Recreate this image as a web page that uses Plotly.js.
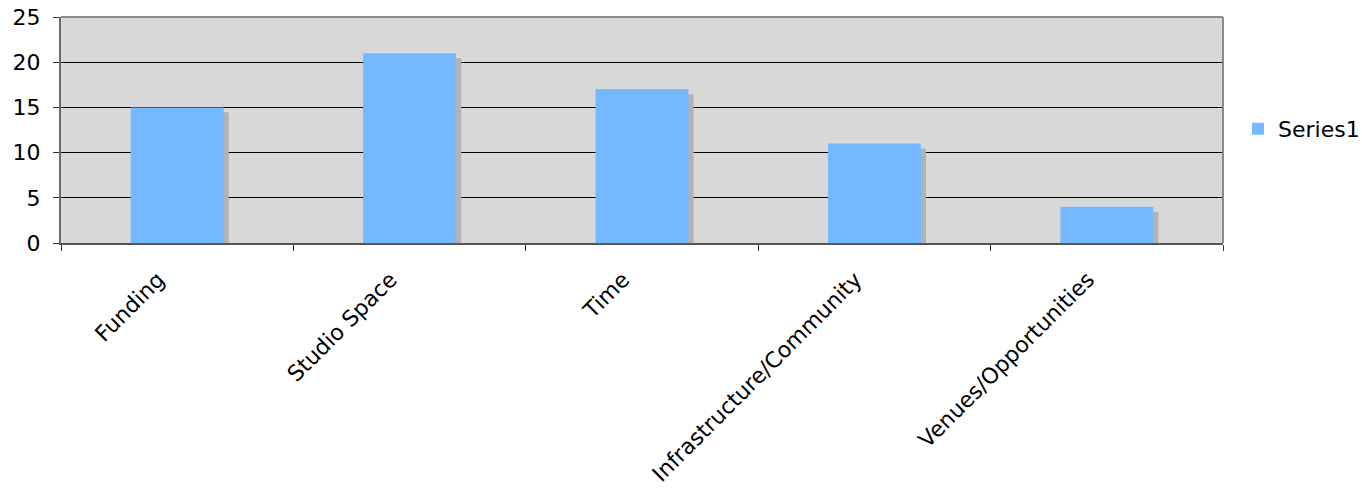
<!DOCTYPE html>
<html>
<head>
<meta charset="utf-8">
<script src="https://cdn.plot.ly/plotly-3.0.1.min.js"></script>
<style>html,body{margin:0;padding:0;background:#fff;}#chart{width:1362px;height:490px;}</style>
</head>
<body>
<div id="chart"></div>
<script>
const categories = ["Funding", "Studio Space", "Time", "Infrastructure/Community", "Venues/Opportunities"];
const series1 = [15, 21, 17, 11, 4];
const yTicks = [0, 5, 10, 15, 20, 25];

const shadowDrop = 0.55;   // shadow is dropped a few pixels
const shadowShift = 0.022; // and shifted a few pixels right

const shadow = {
  type: "bar",
  x: categories,
  y: series1.map(v => v - shadowDrop),
  width: 0.4,
  offset: -0.2 + shadowShift,
  marker: {color: "#b2b2b2", line: {width: 0}},
  showlegend: false,
  hoverinfo: "skip"
};
const main = {
  type: "bar",
  name: "Series1",
  x: categories,
  y: series1,
  width: 0.4,
  offset: -0.2,
  marker: {color: "#74b8ff", line: {width: 0}}
};

const layout = {
  width: 1362, height: 490,
  margin: {l: 61, r: 139, t: 17, b: 247, autoexpand: false},
  paper_bgcolor: "#ffffff",
  plot_bgcolor: "#d8d8d8",
  barmode: "overlay",
  font: {family: "DejaVu Sans, Verdana, sans-serif", size: 22, color: "#000"},
  xaxis: {
    type: "category",
    tickangle: -45,
    tickson: "boundaries",
    ticks: "outside", ticklen: 6, tickcolor: "#333", tickwidth: 1,
    showline: true, linecolor: "#555", linewidth: 2, mirror: false,
    showgrid: false,
    tickfont: {size: 22},
    ticklabelstandoff: 13,
    ticklabelshift: -19
  },
  yaxis: {
    range: [0, 25],
    tickvals: yTicks,
    ticks: "outside", ticklen: 6, tickcolor: "#333", tickwidth: 1,
    showline: true, linecolor: "#6a6a6a", linewidth: 2,
    showgrid: true, gridcolor: "#000", gridwidth: 1,
    zeroline: false,
    tickfont: {size: 22}, ticklabelstandoff: 8
  },
  shapes: [
    {type: "line", xref: "paper", yref: "paper", x0: 0, x1: 1, y0: 1, y1: 1, line: {color: "#8a8a8a", width: 2}},
    {type: "line", xref: "paper", yref: "paper", x0: 1, x1: 1, y0: 0, y1: 1, line: {color: "#8a8a8a", width: 2}}
  ],
  legend: {
    xref: "container", yref: "container",
    x: 0.909, xanchor: "left", y: 0.737, yanchor: "middle",
    bgcolor: "rgba(0,0,0,0)", font: {size: 22},
    itemwidth: 30
  }
};

Plotly.newPlot("chart", [shadow, main], layout, {displayModeBar: false, staticPlot: true});
</script>
</body>
</html>
